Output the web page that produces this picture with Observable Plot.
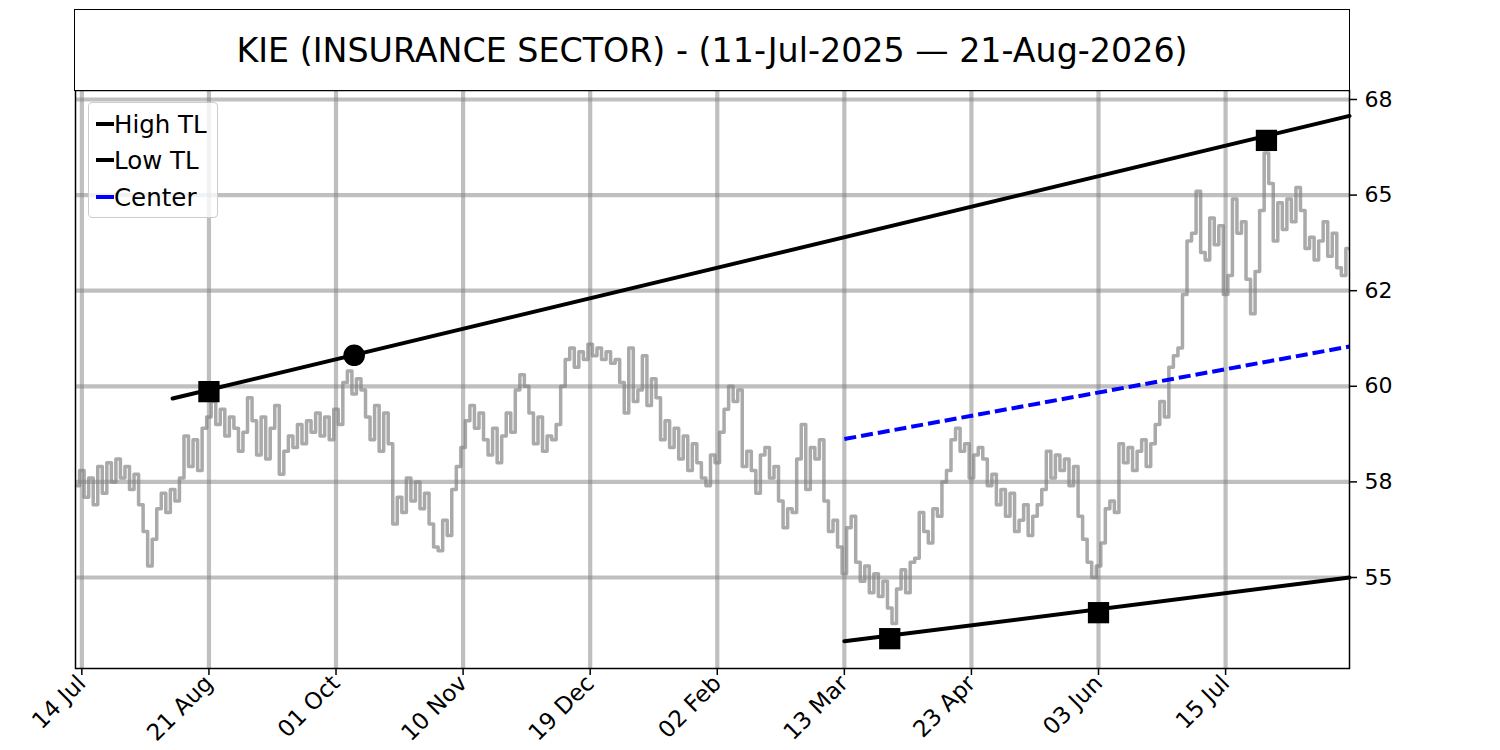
<!DOCTYPE html>
<html><head><meta charset="utf-8">
<script src="https://cdn.jsdelivr.net/npm/d3@7"></script>
<script src="https://cdn.jsdelivr.net/npm/@observablehq/plot@0.6"></script>
<style>
body{margin:0;background:#fff;font-family:"DejaVu Sans",sans-serif;}
#wrap{position:relative;width:1500px;height:750px;overflow:hidden;}
#title{position:absolute;left:74px;top:9px;width:1276px;height:82px;box-sizing:border-box;border:1.5px solid #000;display:flex;align-items:center;justify-content:center;font-size:33.3px;color:#000;background:#fff;}
#chart{position:absolute;left:0;top:69px;}
#legend{position:absolute;left:88px;top:102px;width:130px;height:116px;box-sizing:border-box;border:1px solid #cccccc;border-radius:4px;background:rgba(255,255,255,0.8);}
.item{position:absolute;left:7px;height:30px;display:flex;align-items:center;font-size:24.5px;color:#000;white-space:nowrap;}
.sw{width:18px;height:4px;}
</style>
</head><body>
<div id="wrap">
  <div id="chart"></div>
  <div id="title"></div>
  <div id="legend"></div>
</div>
<script>
// ---- data (trading-day index 0 = 11 Jul 2025 ... 280 = 21 Aug 2026) ----
const price = [
  57.4, 57.8, 57.1, 57.6, 56.9,  57.9, 57.2, 58.0, 57.5, 58.1,
  57.6, 57.9, 57.3, 57.7, 56.9,  56.2, 55.3, 56.0, 56.8, 57.2,
  56.7, 57.3, 57.0, 57.6, 58.7,  57.9, 58.6, 57.8, 58.9, 59.2,
  59.6, 59.0, 59.4, 58.7, 59.2,  58.9, 58.3, 58.8, 59.7, 59.1,
  58.2, 59.2, 58.1, 58.9, 59.5,  57.7, 58.3, 58.7, 58.4, 59.0,
  58.5, 59.1, 58.8, 59.3, 58.7,  59.2, 58.6, 59.4, 59.0, 60.1,
  60.4, 59.8, 60.2, 59.9, 59.2,  58.6, 59.5, 58.3, 59.3, 58.5,
  56.4, 57.1, 56.7, 57.6, 57.0,  57.5, 56.8, 57.2, 56.4, 55.8,
  55.7, 56.5, 56.1, 57.3, 57.9,  58.4, 59.1, 59.5, 58.9, 59.3,
  58.6, 58.2, 58.9, 58.0, 58.7,  59.3, 58.8, 59.9, 60.3, 60.0,
  59.3, 58.5, 59.2, 58.3, 58.7,  58.6, 59.0, 60.0, 60.7, 61.0,
  60.5, 60.9, 60.7, 61.1, 60.8,  61.0, 60.7, 60.9, 60.6, 60.7,
  60.1, 59.3, 61.0, 59.6, 59.9,  60.8, 59.5, 60.2, 59.7, 58.6,
  59.1, 58.4, 58.9, 58.1, 58.7,  57.8, 58.5, 58.0, 57.6, 57.4,
  58.2, 58.0, 58.8, 59.4, 60.0,  59.6, 59.9, 57.9, 58.3, 57.8,
  57.2, 58.2, 58.4, 57.6, 57.9,  57.0, 56.3, 56.8, 56.7, 58.1,
  59.0, 57.3, 58.4, 58.1, 58.6,  57.0, 56.2, 56.5, 55.8, 55.1,
  56.3, 56.6, 55.4, 54.9, 55.3,  54.6, 55.1, 54.5, 54.9, 54.2,
  53.8, 54.7, 55.2, 54.6, 55.4,  55.5, 56.7, 56.2, 55.9, 56.8,
  56.6, 57.5, 57.8, 58.6, 58.9,  58.3, 58.5, 57.6, 58.2, 58.4,
  58.1, 57.4, 57.7, 56.9, 57.3,  56.6, 57.2, 56.2, 56.5, 56.9,
  56.1, 56.6, 56.9, 57.3, 58.3,  57.6, 58.2, 57.8, 58.1, 57.4,
  57.9, 56.6, 56.0, 55.4, 55.0,  55.3, 55.9, 56.8, 57.0, 56.7,
  58.5, 58.0, 58.4, 57.8, 58.3,  58.6, 57.9, 58.5, 59.0, 59.6,
  59.2, 60.5, 60.8, 61.0, 62.4,  63.8, 64.0, 65.1, 63.5, 63.3,
  64.4, 63.7, 64.2, 62.4, 62.9,  64.9, 64.0, 64.3, 62.8, 61.9,
  63.0, 64.6, 66.1, 65.3, 63.8,  64.8, 64.1, 64.9, 64.3, 65.2,
  64.6, 63.6, 63.9, 63.3, 63.8,  64.3, 63.4, 64.0, 63.1, 62.9, 63.6
];
const highTLx = [21, 280.3], highTLy = [59.68, 67.07];
const lowTLx = [169, 280.3], lowTLy = [53.33, 55.0];
const centerX = [169, 280.3], centerY = [58.62, 61.04];
const squareX = [29, 262, 179, 225], squareY = [59.86, 66.43, 53.40, 54.08];
const circleX = [61], circleY = [60.81];
const xTicks = [1, 29, 57, 85, 113, 141, 169, 197, 225, 253];
const xTickLabels = ["14 Jul","21 Aug","01 Oct","10 Nov","19 Dec","02 Feb","13 Mar","23 Apr","03 Jun","15 Jul"];
const yTicks = [55, 57.5, 60, 62.5, 65, 67.5];
const yTickLabels = ["55","58","60","62","65","68"];
const titleText = "KIE (INSURANCE SECTOR) - (11-Jul-2025 \u2014 21-Aug-2026)";
const legendItems = ["High TL", "Low TL", "Center"];
const legendColors = ["black", "black", "blue"];

const toPts = (xs, ys) => xs.map((x, i) => ({x, y: ys[i]}));
const priceData = price.map((v, i) => ({x: i, y: v}));

const chart = Plot.plot({
  width: 1500, height: 681,
  marginTop: 21, marginBottom: 82, marginLeft: 75, marginRight: 151,
  style: {fontFamily: "DejaVu Sans", fontSize: "22px", background: "transparent", color: "black", overflow: "visible"},
  x: {domain: [-0.4, 280.3]},
  y: {domain: [52.62, 67.735]},
  marks: [
    Plot.line(priceData, {x: "x", y: "y", curve: "step", stroke: "#aaaaaa", strokeWidth: 3.5}),
    Plot.gridX({ticks: xTicks, stroke: "#808080", strokeOpacity: 0.5, strokeWidth: 4.2}),
    Plot.gridY({ticks: yTicks, stroke: "#808080", strokeOpacity: 0.5, strokeWidth: 4.2}),
    Plot.line(toPts(highTLx, highTLy), {x: "x", y: "y", stroke: "black", strokeWidth: 4}),
    Plot.line(toPts(lowTLx, lowTLy), {x: "x", y: "y", stroke: "black", strokeWidth: 4}),
    Plot.line(toPts(centerX, centerY), {x: "x", y: "y", stroke: "blue", strokeWidth: 4, strokeDasharray: "12,5", strokeLinecap: "butt"}),
    Plot.dot(toPts(squareX, squareY), {x: "x", y: "y", symbol: "square", r: 12, fill: "black"}),
    Plot.dot(toPts(circleX, circleY), {x: "x", y: "y", symbol: "circle", r: 10.8, fill: "black"}),
    Plot.axisX({ticks: xTicks, tickFormat: d => xTickLabels[xTicks.indexOf(d)], tickRotate: -45, tickSize: 7, tickPadding: 4, strokeWidth: 1.5, fontSize: 23, label: null}),
    Plot.axisY({anchor: "right", ticks: yTicks, tickFormat: d => yTickLabels[yTicks.indexOf(d)], tickSize: 7, tickPadding: 8, strokeWidth: 1.5, fontSize: 22, label: null}),
    Plot.frame({stroke: "black", strokeWidth: 1.5})
  ]
});
document.getElementById("chart").appendChild(chart);
document.getElementById("title").textContent = titleText;

const leg = document.getElementById("legend");
const centers = [21, 57, 94];
legendItems.forEach((t, i) => {
  const it = document.createElement("div");
  it.className = "item";
  it.style.top = (centers[i] - 15) + "px";
  const sw = document.createElement("div");
  sw.className = "sw";
  sw.style.background = legendColors[i];
  const tx = document.createElement("span");
  tx.textContent = t;
  it.appendChild(sw); it.appendChild(tx);
  leg.appendChild(it);
});
</script>
</body></html>
